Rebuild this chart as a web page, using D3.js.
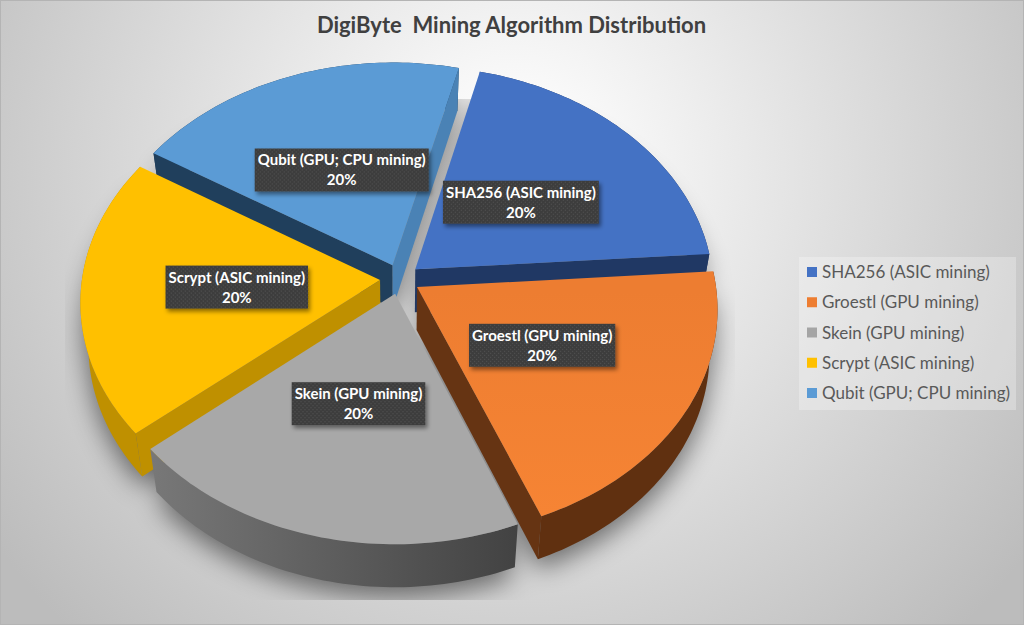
<!DOCTYPE html>
<html><head><meta charset="utf-8">
<script src="https://cdn.jsdelivr.net/npm/d3@7/dist/d3.min.js"></script>
<style>html,body{margin:0;padding:0;background:#fff}svg{display:block}</style>
</head><body><svg id="c" width="1024" height="625"></svg>
<script>
const title = "DigiByte  Mining Algorithm Distribution";
const categories = ["SHA256 (ASIC mining)","Groestl (GPU mining)","Skein (GPU mining)","Scrypt (ASIC mining)","Qubit (GPU; CPU mining)"];
const values = [20,20,20,20,20];
const legendColors = ["#4472C4","#ED7D31","#A5A5A5","#FFC000","#5B9BD5"];
const topColors = ["#4472C4","url(#topOrange)","#A8A8A8","#FFC000","#5B9BD5"];
const rimColors = ["#203864","#603010","url(#rimGrey)","#BF9000","#203F5C"];
const entryFaceColors = [null,null,null,"#BF9000","#203F5C"];
const exitFaceColors = ["#203864","#663413",null,null,"#4A82B5"];
const paintOrder = [4,0,3,1,2];

const W=1024,H=625;
const cx=400,cy=279,R=298,squash=0.752,persp=3170,explode=20,depth=43,depthShrink=0.975;
const startDeg=14;
const svg=d3.select("#c").attr("viewBox",[0,0,W,H]);
const defs=svg.append("defs");
const bg=defs.append("radialGradient").attr("id","bg").attr("gradientUnits","userSpaceOnUse")
  .attr("cx",515).attr("cy",170).attr("r",640);
bg.append("stop").attr("offset",0.05).attr("stop-color","#ffffff");
bg.append("stop").attr("offset",1).attr("stop-color","#bcbcbc");
const rg=defs.append("linearGradient").attr("id","rimGrey").attr("gradientUnits","userSpaceOnUse")
  .attr("x1",150).attr("x2",520).attr("y1",0).attr("y2",0);
rg.append("stop").attr("offset",0).attr("stop-color","#787878");
rg.append("stop").attr("offset",1).attr("stop-color","#424242");
const og=defs.append("linearGradient").attr("id","topOrange").attr("gradientUnits","userSpaceOnUse")
  .attr("x1",0).attr("x2",0).attr("y1",290).attr("y2",515);
og.append("stop").attr("offset",0).attr("stop-color","#ED7D31");
og.append("stop").attr("offset",1).attr("stop-color","#F68434");
const blur=defs.append("filter").attr("id","blur").attr("x","-20%").attr("y","-20%").attr("width","140%").attr("height","140%");
blur.append("feGaussianBlur").attr("stdDeviation",13);
const ds=defs.append("filter").attr("id","ds").attr("x","-10%").attr("y","-20%").attr("width","120%").attr("height","150%");
ds.append("feDropShadow").attr("dx",2).attr("dy",3).attr("stdDeviation",2).attr("flood-color","#000").attr("flood-opacity",0.45);
const pat=defs.append("pattern").attr("id","dots").attr("patternUnits","userSpaceOnUse").attr("width",4).attr("height",4);
pat.append("rect").attr("width",4).attr("height",4).attr("fill","#3d3d3d");
pat.append("rect").attr("x",0).attr("y",0).attr("width",1).attr("height",1).attr("fill","#555");
pat.append("rect").attr("x",2).attr("y",2).attr("width",1).attr("height",1).attr("fill","#555");
defs.append("clipPath").attr("id","shadowClip").append("rect").attr("x",65).attr("y",99).attr("width",670).attr("height",501);

svg.append("rect").attr("width",W).attr("height",H).attr("fill","url(#bg)");
svg.append("rect").attr("x",0.5).attr("y",0.5).attr("width",W-1).attr("height",H-1).attr("fill","none").attr("stroke","#b4b4b4");

svg.append("text").attr("x",511.5).attr("y",33).attr("text-anchor","middle").attr("xml:space","preserve")
  .style("white-space","pre").attr("font-family","Lato").attr("font-weight",700).attr("font-size",22).attr("fill","#404040").text(title);

// Projection of a point on the tilted disc (x right, y towards the viewer, z = depth fraction below)
function project(x,y,z){
  const s=persp/(persp-y);
  const shrink=1-(1-depthShrink)*z;
  return [cx+x*s*shrink, cy+y*squash*s+depth*z];
}
const arcs=d3.pie().sort(null).value(d=>d)
  .startAngle(startDeg*Math.PI/180).endAngle((startDeg+360)*Math.PI/180)(values);
const line=d3.line();
const slices=arcs.map((a,i)=>{
  const mid=(a.startAngle+a.endAngle)/2;
  const ox=explode*Math.sin(mid), oy=-explode*Math.cos(mid);
  const pt=(ang,r,z)=>project(ox+r*Math.sin(ang),oy-r*Math.cos(ang),z);
  const angs=d3.range(0,61).map(t=>a.startAngle+(a.endAngle-a.startAngle)*t/60);
  return {i,a,mid,pt,angs};
});
function topPath(s,z){return line([s.pt(0,0,z),...s.angs.map(t=>s.pt(t,R,z))])+"Z";}
function rimPath(s){return line([...s.angs.map(t=>s.pt(t,R,0)),...s.angs.slice().reverse().map(t=>s.pt(t,R,1))])+"Z";}
function facePath(s,ang){return line([s.pt(0,0,0),s.pt(ang,R,0),s.pt(ang,R,1),s.pt(0,0,1)])+"Z";}

const sh=svg.append("g").attr("clip-path","url(#shadowClip)").append("g").attr("filter","url(#blur)").attr("opacity",0.5).attr("transform","translate(0,10)");
slices.forEach(s=>{
  sh.append("path").attr("d",topPath(s,1)).attr("fill","#000");
  sh.append("path").attr("d",topPath(s,0.4)).attr("fill","#000");
});

const pie=svg.append("g");
paintOrder.forEach(k=>{
  const s=slices[k];
  const g=pie.append("g");
  g.append("path").attr("d",rimPath(s)).attr("fill",rimColors[k]);
  if(entryFaceColors[k]) g.append("path").attr("d",facePath(s,s.a.startAngle)).attr("fill",entryFaceColors[k]);
  if(exitFaceColors[k]) g.append("path").attr("d",facePath(s,s.a.endAngle)).attr("fill",exitFaceColors[k]);
  g.append("path").attr("d",topPath(s,0)).attr("fill",topColors[k]);
});

// Data labels
const total=d3.sum(values), pct=d3.format(".0%");
const lab=svg.append("g");
slices.forEach(s=>{
  const [x,y]=s.pt(s.mid,R*0.48,0);
  const g=lab.append("g").attr("transform",`translate(${x},${y-1})`);
  const box=g.append("rect").attr("fill","url(#dots)").attr("filter","url(#ds)");
  const t1=g.append("text").attr("text-anchor","middle").attr("y",-4).attr("font-family","Lato").attr("font-weight",700)
    .attr("font-size",15).attr("fill","#fff").text(categories[s.i]);
  g.append("text").attr("text-anchor","middle").attr("y",16).attr("font-family","Lato").attr("font-weight",700)
    .attr("font-size",15).attr("fill","#fff").text(pct(values[s.i]/total));
  const w=t1.node().getComputedTextLength()+6;
  box.attr("x",-w/2).attr("y",-21).attr("width",w).attr("height",43);
});

// Legend
svg.append("rect").attr("x",799).attr("y",257).attr("width",217).attr("height",153).attr("fill","#fff").attr("opacity",0.28);
const rows=d3.scalePoint().domain(categories).range([272,393]);
const leg=svg.append("g").selectAll("g").data(categories).join("g").attr("transform",d=>`translate(807,${rows(d)})`);
leg.append("rect").attr("x",0).attr("y",-5).attr("width",10).attr("height",10).attr("fill",(d,i)=>legendColors[i]);
leg.append("text").attr("x",15).attr("y",6).attr("font-family","Lato").attr("font-size",17).attr("fill","#595959").text(d=>d);
</script></body></html>
